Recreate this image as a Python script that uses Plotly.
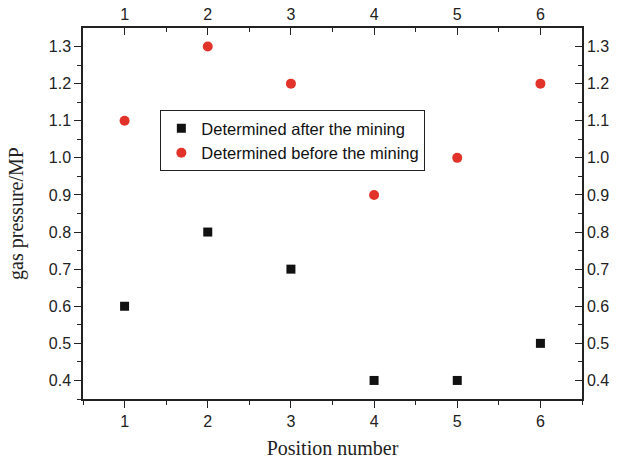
import plotly.graph_objects as go

positions = [1, 2, 3, 4, 5, 6]
after_mining = [0.6, 0.8, 0.7, 0.4, 0.4, 0.5]
before_mining = [1.1, 1.3, 1.2, 0.9, 1.0, 1.2]
x_ticks = [1, 2, 3, 4, 5, 6]
y_ticks = [0.4, 0.5, 0.6, 0.7, 0.8, 0.9, 1.0, 1.1, 1.2, 1.3]
x_minor = [0.5, 1.5, 2.5, 3.5, 4.5, 5.5, 6.5]
y_minor = [0.35, 0.45, 0.55, 0.65, 0.75, 0.85, 0.95, 1.05, 1.15, 1.25]

fig = go.Figure()
fig.add_trace(go.Scatter(x=positions, y=after_mining, mode="markers",
                         name="Determined after the mining",
                         marker=dict(symbol="square", size=9, color="#111111")))
fig.add_trace(go.Scatter(x=positions, y=before_mining, mode="markers",
                         name="Determined before the mining",
                         marker=dict(symbol="circle", size=10, color="#e2332a")))
fig.add_trace(go.Scatter(x=positions, y=before_mining, mode="markers",
                         xaxis="x2", yaxis="y2", showlegend=False, hoverinfo="skip",
                         marker=dict(opacity=0)))

ink = "#222222"
tickfont = dict(family="Liberation Sans, Arial, sans-serif", size=16, color=ink)
titlefont = dict(family="Liberation Serif, Times New Roman, serif", size=20, color=ink)
common_x = dict(range=[0.5, 6.5], tickvals=x_ticks, ticklen=7, tickwidth=1.3,
                tickcolor=ink, showline=True, linecolor=ink, linewidth=1.5,
                showgrid=False, zeroline=False, tickfont=tickfont, automargin=False)
common_y = dict(range=[0.35, 1.35], tickvals=y_ticks, ticktext=[f"{v:.1f}" for v in y_ticks],
                ticklen=7, tickwidth=1.3, tickcolor=ink, showline=True,
                linecolor=ink, linewidth=1.5, showgrid=False, zeroline=False,
                tickfont=tickfont, automargin=False)

def minor(vals, direction):
    return dict(tickvals=vals, ticks=direction, ticklen=4, tickcolor=ink, tickwidth=1.3)

fig.update_layout(
    width=620, height=459,
    margin=dict(l=83, r=38, t=28, b=60, autoexpand=False),
    paper_bgcolor="white", plot_bgcolor="white",
    xaxis=dict(**common_x, ticks="outside", minor=minor(x_minor, "outside"),
               title=dict(text="Position number", font=titlefont, standoff=13)),
    xaxis2=dict(**common_x, ticks="inside", overlaying="x", side="top", anchor="y",
                minor=minor(x_minor, "inside")),
    yaxis=dict(**common_y, ticks="outside", minor=minor(y_minor, "outside"),
               title=dict(text="gas pressure/MP", font=titlefont, standoff=20)),
    yaxis2=dict(**common_y, ticks="inside", overlaying="y", side="right", anchor="x",
                minor=minor(y_minor, "inside")),
    legend=dict(x=0.155, y=0.779, xanchor="left", yanchor="top",
                bordercolor=ink, borderwidth=1, bgcolor="white",
                font=dict(family="Liberation Sans, Arial, sans-serif", size=16.5, color="#111111"),
                itemwidth=30, tracegroupgap=0),
    showlegend=True,
)

fig.write_html("out.html", config={"displayModeBar": False},
               post_script="document.body.style.margin='0';document.body.style.overflow='hidden';")
